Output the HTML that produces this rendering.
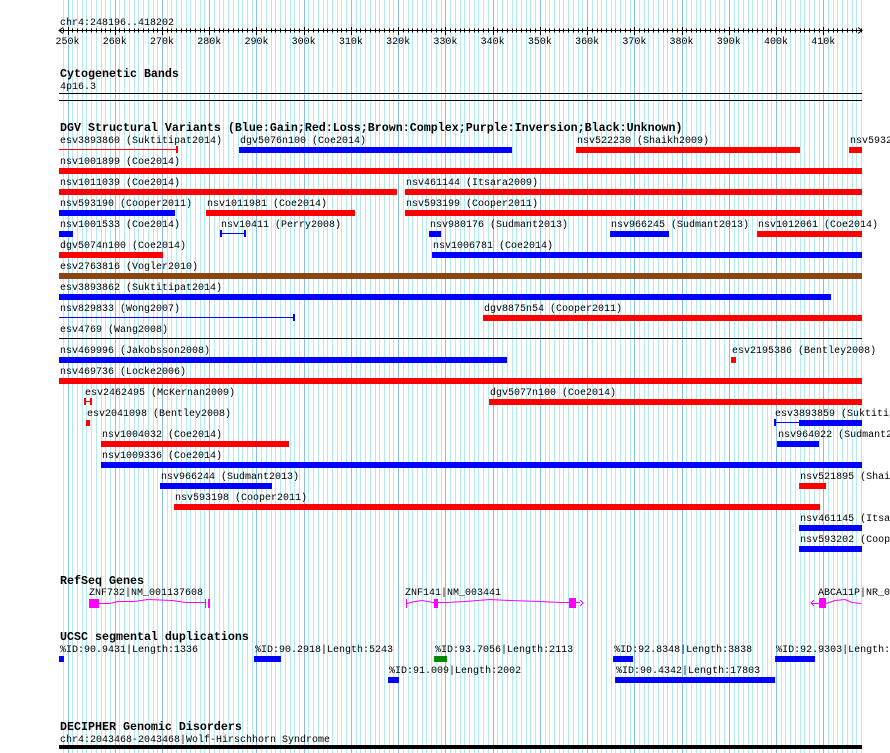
<!DOCTYPE html>
<html><head><meta charset="utf-8"><style>
html,body{margin:0;padding:0;background:#fff;width:890px;height:753px;overflow:hidden}
svg{display:block}
text{font-family:"Liberation Mono","DejaVu Sans Mono",monospace;font-size:10px;fill:#000}
.t{font-weight:bold;font-size:11.67px}
</style></head><body>
<svg id="c" width="890" height="753"></svg>
<script>
const startKb = 248.196, endKb = 418.202;
const x0 = 59, x1 = 862;
// DGV rows: [label, labelStartKb, startKb, endKb, color, kind]
const svRows = [
 [["esv3893860 (Suktitipat2014)",248.2,248.2,273.39,"#f00","thin"],["dgv5076n100 (Coe2014)",286.31,286.31,344.11,"#00f","bar"],["nsv522230 (Shaikh2009)",357.66,357.66,405.09,"#f00","bar"],["nsv5932",415.46,415.46,418.2,"#f00","bar"]],
 [["nsv1001899 (Coe2014)",248.2,248.2,418.2,"#f00","bar"]],
 [["nsv1011039 (Coe2014)",248.2,248.2,319.76,"#f00","bar"],["nsv461144 (Itsara2009)",321.45,321.45,418.2,"#f00","bar"]],
 [["nsv593190 (Cooper2011)",248.2,248.2,272.76,"#00f","bar"],["nsv1011981 (Coe2014)",279.32,279.32,310.87,"#f00","bar"],["nsv593199 (Cooper2011)",321.45,321.45,418.2,"#f00","bar"]],
 [["nsv1001533 (Coe2014)",248.2,248.2,251.16,"#00f","bar"],["nsv10411 (Perry2008)",282.28,282.28,287.79,"#00f","thin2"],["nsv980176 (Sudmant2013)",326.53,326.53,329.08,"#00f","bar"],["nsv966245 (Sudmant2013)",364.86,364.86,377.35,"#00f","bar"],["nsv1012061 (Coe2014)",395.98,395.98,418.2,"#f00","bar"]],
 [["dgv5074n100 (Coe2014)",248.2,248.2,270.22,"#f00","bar"],["nsv1006781 (Coe2014)",327.17,327.17,418.2,"#00f","bar"]],
 [["esv2763816 (Vogler2010)",248.2,248.2,418.2,"#8b4513","bar"]],
 [["esv3893862 (Suktitipat2014)",248.2,248.2,411.65,"#00f","bar"]],
 [["nsv829833 (Wong2007)",248.2,248.2,298.16,"#00f","thin"],["dgv8875n54 (Cooper2011)",337.97,337.97,418.2,"#f00","bar"]],
 [["esv4769 (Wang2008)",248.2,248.2,418.2,"#000","line"]],
 [["nsv469996 (Jakobsson2008)",248.2,248.2,343.05,"#00f","bar"],["esv2195386 (Bentley2008)",390.48,390.48,391.54,"#f00","bar"]],
 [["nsv469736 (Locke2006)",248.2,248.2,418.2,"#f00","bar"]],
 [["esv2462495 (McKernan2009)",253.49,253.49,255.18,"#f00","thin2"],["dgv5077n100 (Coe2014)",339.24,339.24,418.2,"#f00","bar"]],
 [["esv2041098 (Bentley2008)",253.91,253.91,254.76,"#f00","bar"],["esv3893859 (Suktitipat2014)",399.58,399.58,418.2,"#00f","mix"]],
 [["nsv1004032 (Coe2014)",257.09,257.09,296.89,"#f00","bar"],["nsv964022 (Sudmant2013)",400.22,400.22,409.11,"#00f","bar"]],
 [["nsv1009336 (Coe2014)",257.09,257.09,418.2,"#00f","bar"]],
 [["nsv966244 (Sudmant2013)",269.58,269.58,293.29,"#00f","bar"],["nsv521895 (Shaikh2009)",404.88,404.88,410.59,"#f00","bar"]],
 [["nsv593198 (Cooper2011)",272.55,272.55,409.32,"#f00","bar"]],
 [["nsv461145 (Itsara2009)",404.88,404.88,418.2,"#00f","bar"]],
 [["nsv593202 (Cooper2011)",404.88,404.88,418.2,"#00f","bar"]]
];
// segmental duplications: [label, row, startKb, endKb, color]
const segDups = [
 ["%ID:90.9431|Length:1336",0,248.2,249.25,"#00f"],
 ["%ID:90.2918|Length:5243",0,289.48,295.2,"#00f"],
 ["%ID:93.7056|Length:2113",0,327.6,330.35,"#080"],
 ["%ID:92.8348|Length:3838",0,365.5,369.73,"#00f"],
 ["%ID:92.9303|Length:1986",0,399.8,408.27,"#00f"],
 ["%ID:91.009|Length:2002",1,317.86,320.18,"#00f"],
 ["%ID:90.4342|Length:17803",1,365.92,399.8,"#00f"]
];
const tickLabels = [250,260,270,280,290,300,310,320,330,340,350,360,370,380,390,400,410];

const NS="http://www.w3.org/2000/svg";
const svg=document.getElementById('c');
const X=kb=>x0+(kb-startKb)*(x1-x0)/(endKb-startKb);
function mk(tag,attrs,parent){const e=document.createElementNS(NS,tag);for(const k in attrs)e.setAttribute(k,attrs[k]);(parent||svg).appendChild(e);return e;}
function txt(s,x,y,cls,parent){const e=mk('text',{x:x,y:y},parent);if(cls)e.setAttribute('class',cls);e.textContent=s;return e;}

// grid
const grid=mk('g',{});


for(let k=249;k<=418;k++){
  const x=Math.round(X(k))+0.5;
  mk('line',{x1:x,x2:x,y1:0,y2:753,stroke:(k%10===0)?'#86bfea':'#b2ecf2','stroke-width':1},grid);
}
// axis
const axis=mk('g',{});


txt('chr4:248196..418202',60,25,null,axis);
mk('line',{x1:x0,x2:x1,y1:30.5,y2:30.5,stroke:'#000'},axis);
mk('path',{d:`M${x0+4} 27.5 L${x0} 30.5 L${x0+4} 33.5 M${x1-4} 27.5 L${x1} 30.5 L${x1-4} 33.5`,stroke:'#000',fill:'none'},axis);
for(let k=249;k<=418;k++){const x=Math.round(X(k))+0.5;mk('line',{x1:x,x2:x,y1:(k%10===0)?27:28.5,y2:(k%10===0)?35:32.5,stroke:'#000'},axis);}
tickLabels.forEach(k=>{const t=txt(k+'k',X(k),44,null,axis);t.setAttribute('text-anchor','middle');

});

// cytobands
const cyt=mk('g',{});


txt('Cytogenetic Bands',60,77,'t',cyt);
txt('4p16.3',60,89,null,cyt);
mk('rect',{x:x0,y:93,width:x1-x0,height:1,fill:'#000'},cyt);
mk('rect',{x:x0,y:100,width:x1-x0,height:1,fill:'#000'},cyt);

// DGV
const dgv=mk('g',{});


txt('DGV Structural Variants (Blue:Gain;Red:Loss;Brown:Complex;Purple:Inversion;Black:Unknown)',60,131,'t',dgv);
svRows.forEach((row,i)=>{
  const top=147+i*21;
  row.forEach(f=>{
    const [lab,lk,s,e,col,kind]=f;
    const g=mk('g',{},dgv);
    
    
    txt(lab,X(lk)+1,top-4,null,g);
    const xs=X(s),xe=X(e);
    if(kind==='bar') mk('rect',{x:xs,y:top,width:Math.max(2,xe-xs),height:6,fill:col},g);
    else if(kind==='line') mk('rect',{x:xs,y:top+2,width:xe-xs,height:1,fill:col},g);
    else if(kind==='thin'||kind==='thin2'){
      mk('rect',{x:xs,y:top+2,width:xe-xs,height:1,fill:col},g);
      mk('rect',{x:xe-2,y:top-1,width:2,height:7,fill:col},g);
      if(kind==='thin2') mk('rect',{x:xs,y:top-1,width:2,height:7,fill:col},g);
    } else if(kind==='mix'){
      const xm=xs+25;
      mk('rect',{x:xs,y:top+2,width:xm-xs,height:1,fill:col},g);
      mk('rect',{x:xs,y:top-1,width:2,height:7,fill:col},g);
      mk('rect',{x:xm,y:top,width:xe-xm,height:6,fill:col},g);
    }
  });
});

// RefSeq genes
const ref=mk('g',{});


txt('RefSeq Genes',60,584,'t',ref);
const mg='#f0f';
const g1=mk('g',{},ref);


txt('ZNF732|NM_001137608',89,595,null,g1);
mk('rect',{x:89,y:599,width:10,height:9,fill:mg},g1);
mk('polyline',{points:'99,603.5 110,603.5 118,601.5 134,601.5 148,599.5 172,600.5 186,602.5 205,602.5',stroke:mg,fill:'none'},g1);
mk('rect',{x:205,y:599,width:1,height:9,fill:mg},g1);
mk('rect',{x:208,y:599,width:2,height:9,fill:mg},g1);
const g2=mk('g',{},ref);


txt('ZNF141|NM_003441',405,595,null,g2);
mk('rect',{x:406,y:599,width:1,height:9,fill:mg},g2);
mk('polyline',{points:'407,603.5 415,601.5 422,600.5 433,602.5 446,602.5 465,601.5 490,599.5 510,600.5 540,601.5 560,602.5 580,602.5',stroke:mg,fill:'none'},g2);
mk('rect',{x:434,y:599,width:4,height:9,fill:mg},g2);
mk('rect',{x:569,y:598,width:7,height:10,fill:mg},g2);
mk('path',{d:'M580 600 L583 603 L580 606',stroke:mg,fill:'none'},g2);
const g3=mk('g',{},ref);


txt('ABCA11P|NR_002451',818,595,null,g3);
mk('path',{d:'M814 600 L811 603 L814 606',stroke:mg,fill:'none'},g3);
mk('polyline',{points:'811,603.5 826,603.5 835,600.5 845,599.5 852,602.5 861,603.5',stroke:mg,fill:'none'},g3);
mk('rect',{x:819,y:598,width:7,height:10,fill:mg},g3);

// segdups
const sd=mk('g',{});


txt('UCSC segmental duplications',60,640,'t',sd);
segDups.forEach(f=>{
  const [lab,r,s,e,col]=f;
  const top=656+r*21;
  const g=mk('g',{},sd);
  
  
  txt(lab,X(s)+1,top-4,null,g);
  mk('rect',{x:X(s),y:top,width:Math.max(2,X(e)-X(s)),height:6,fill:col},g);
});

// DECIPHER
const dc=mk('g',{});


txt('DECIPHER Genomic Disorders',60,730,'t',dc);
txt('chr4:2043468-2043468|Wolf-Hirschhorn Syndrome',60,742,null,dc);
mk('rect',{x:x0,y:745,width:x1-x0,height:4,fill:'#000'},dc);
</script>
</body></html>
